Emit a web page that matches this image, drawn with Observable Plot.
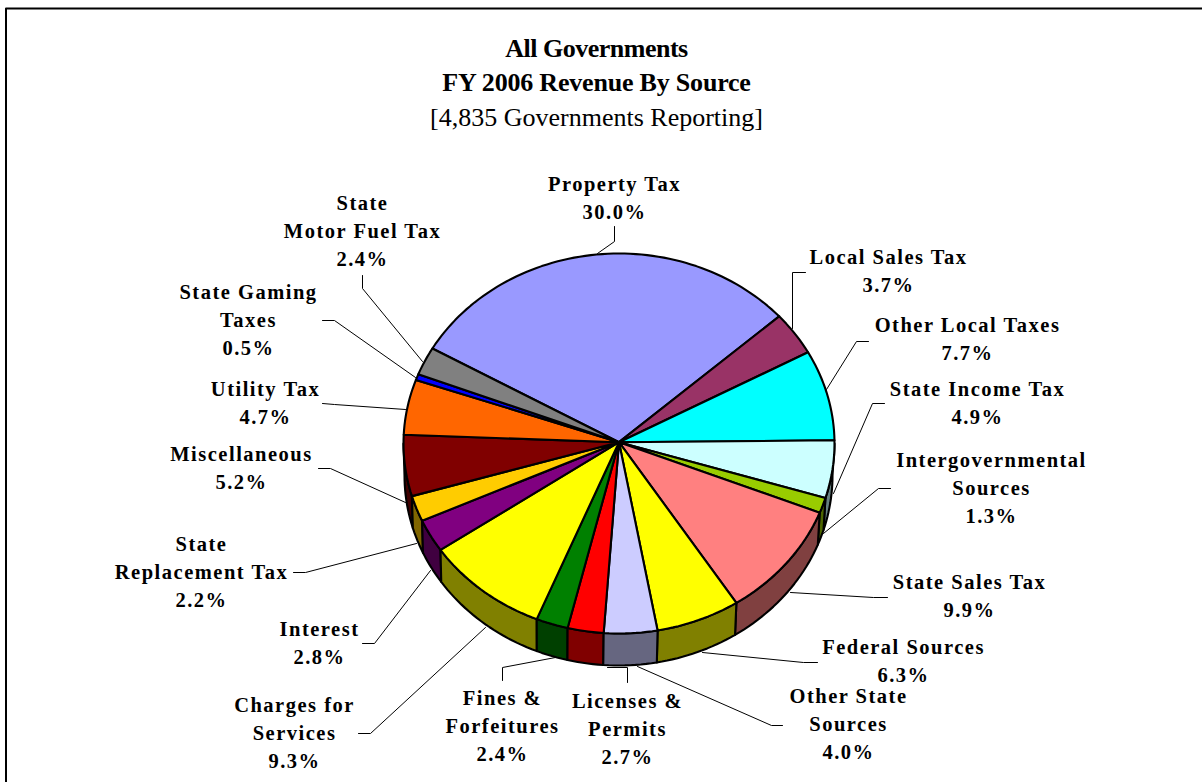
<!DOCTYPE html>
<html>
<head>
<meta charset="utf-8">
<script src="https://cdn.jsdelivr.net/npm/d3@7"></script>
<script src="https://cdn.jsdelivr.net/npm/@observablehq/plot@0.6"></script>
<style>
html,body{margin:0;padding:0;background:#fff;overflow:hidden}
svg{display:block}
.lab{letter-spacing:1.5px}
.ttl1{letter-spacing:-0.5px}
.ttl2{letter-spacing:-0.2px}
.ttl3{letter-spacing:0}
</style>
</head>
<body>
<div id="chart"></div>
<script>
// Data
const sources = ["Property Tax","Local Sales Tax","Other Local Taxes","State Income Tax","Intergovernmental Sources","State Sales Tax","Federal Sources","Other State Sources","Licenses & Permits","Fines & Forfeitures","Charges for Services","Interest","State Replacement Tax","Miscellaneous","Utility Tax","State Gaming Taxes","State Motor Fuel Tax"];
const shares = [30.0,3.7,7.7,4.9,1.3,9.9,6.3,4.0,2.7,2.4,9.3,2.8,2.2,5.2,4.7,0.5,2.4];
const topColors = ["#9999FF","#993366","#00FFFF","#CCFFFF","#99CC00","#FF8080","#FFFF00","#CCCCFF","#FF0000","#008000","#FFFF00","#800080","#FFCC00","#800000","#FF6600","#0000FF","#808080"];
const sideColors = ["#4D4D80","#4D1A33","#008080","#668080","#4D6600","#804040","#808000","#666680","#800000","#004000","#808000","#400040","#806600","#400000","#803300","#000080","#404040"];
const labelTexts = ["Property Tax\n30.0%","Local Sales Tax\n3.7%","Other Local Taxes\n7.7%","State Income Tax\n4.9%","Intergovernmental\nSources\n1.3%","State Sales Tax\n9.9%","Federal Sources\n6.3%","Other State\nSources\n4.0%","Licenses &\nPermits\n2.7%","Fines &\nForfeitures\n2.4%","Charges for\nServices\n9.3%","Interest\n2.8%","State\nReplacement Tax\n2.2%","Miscellaneous\n5.2%","Utility Tax\n4.7%","State Gaming\nTaxes\n0.5%","State\nMotor Fuel Tax\n2.4%"];
const titleLines = ["All Governments","FY 2006 Revenue By Source"];
const subtitle = "[4,835 Governments Reporting]";

// Layout (pixels of the reference)
const labelX = [614,888,967,977,991,969,903,848,627,502,294,319,201,241,265,248,362];
const labelY = [195.5,268.5,337,400.5,485.5,593.5,658.5,721.5,726.5,723.5,730.5,640.5,569.5,465.5,400.5,317.5,228.5];
const leaders = [
  [[614,226],[614,241],[597,253]],
  [[805,272],[792,272],[792,328]],
  [[868,341],[856,341],[826,389]],
  [[884,403],[872,403],[833,493]],
  [[890,488],[878,488],[823,533]],
  [[887,597],[873,597],[790,592]],
  [[817,662],[803,662],[702,652]],
  [[782,725],[771,725],[637,666]],
  [[627,682],[627,667],[607,667]],
  [[502,680],[502,667],[555,657]],
  [[358,733],[370,733],[485,627]],
  [[362,643],[374,643],[430,570]],
  [[293,572],[305,572],[416,543]],
  [[318,468],[330,468],[405,502]],
  [[322,403],[334,404],[405,409]],
  [[322,320],[334,320],[415,377]],
  [[362,275],[362,288],[422,361]]
];
const frameBox = [[1210,8],[5.5,8],[5.5,800]];
const pie = {cx:618.5, cy:443, hubY:441.7, rx:215.5, ry:190, start:-60, depth:32, rxBase:214, cxBase:618};

// Geometry derived from the shares
const toRad = d => d * Math.PI / 180;
const onTop = d => ({x: pie.cx + pie.rx * Math.sin(toRad(d)), y: pie.cy - pie.ry * Math.cos(toRad(d))});
const onBase = d => ({x: pie.cxBase + pie.rxBase * Math.sin(toRad(d)), y: pie.cy + pie.depth - pie.ry * Math.cos(toRad(d))});
const sweep = (a, b) => { const n = Math.max(2, Math.ceil((b - a) / 1.5)); return d3.range(n + 1).map(i => a + (b - a) * i / n); };

const total = d3.sum(shares);
let cursor = pie.start;
const slices = sources.map((name, i) => {
  const a = cursor, b = cursor + shares[i] / total * 360;
  cursor = b;
  return {name, i, a, b};
});

const topPts = slices.flatMap(s => {
  const hub = {x: pie.cx, y: pie.hubY};
  const ring = [hub, ...sweep(s.a, s.b).map(onTop), hub];
  return ring.map(p => ({...p, name: s.name, color: topColors[s.i]}));
});

const drawOrder = slices.filter(s => s.b > 90 && s.a < 270).sort((p, q) => Math.abs((q.a + q.b) / 2 - 180) - Math.abs((p.a + p.b) / 2 - 180));
const sidePts = drawOrder.flatMap(s => {
  const a = Math.max(s.a, 90), b = Math.min(s.b, 270);
  const arc = sweep(a, b);
  const ring = [...arc.map(onTop), ...arc.slice().reverse().map(onBase)];
  ring.push(ring[0]);
  return ring.map(p => ({...p, name: s.name, color: sideColors[s.i]}));
});

const leaderPts = leaders.flatMap((l, i) => l.map(([x, y]) => ({x, y, k: i})));
const framePts = frameBox.map(([x, y]) => ({x, y}));
const labelRows = labelTexts.map((t, i) => ({t, x: labelX[i], y: labelY[i]}));
const serif = "Liberation Serif";

const chart = Plot.plot({
  width: 1202, height: 782, margin: 0,
  style: {background: "#fff"},
  x: {domain: [0, 1202], range: [0, 1202], axis: null},
  y: {domain: [0, 782], range: [0, 782], axis: null},
  color: {type: "identity"},
  marks: [
    Plot.line(framePts, {x: "x", y: "y", stroke: "#000", strokeWidth: 2, clip: true}),
    Plot.line(leaderPts, {x: "x", y: "y", z: "k", stroke: "#000", strokeWidth: 1, strokeLinejoin: "miter"}),
    Plot.line(sidePts, {x: "x", y: "y", z: "name", fill: "color", stroke: "#000", strokeWidth: 2.1}),
    Plot.line(topPts, {x: "x", y: "y", z: "name", fill: "color", stroke: "#000", strokeWidth: 2.1}),
    Plot.text(labelRows, {x: "x", y: "y", text: "t", className: "lab", fontFamily: serif, fontWeight: "bold", fontSize: 20.5, lineHeight: 1.36, fill: "#000", textAnchor: "middle", lineAnchor: "middle"}),
    Plot.text([titleLines[0]], {x: () => 596, y: () => 48, text: d => d, className: "ttl1", fontFamily: serif, fontWeight: "bold", fontSize: 26, fill: "#000"}),
    Plot.text([titleLines[1]], {x: () => 596, y: () => 82, text: d => d, className: "ttl2", fontFamily: serif, fontWeight: "bold", fontSize: 26, fill: "#000"}),
    Plot.text([subtitle], {x: () => 596, y: () => 117, text: d => d, className: "ttl3", fontFamily: serif, fontSize: 26, fill: "#000"})
  ]
});
document.getElementById("chart").append(chart);
</script>
</body>
</html>
